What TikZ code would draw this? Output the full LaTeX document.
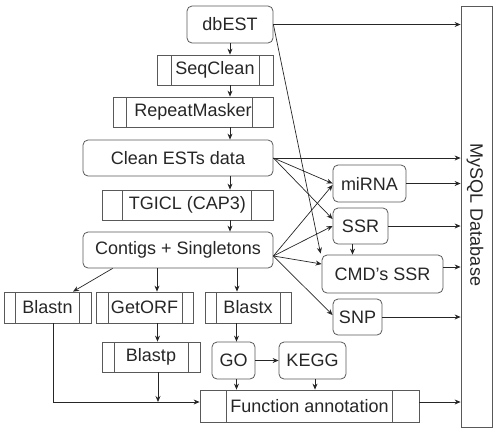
\documentclass[tikz,border=0pt]{standalone}
\usepackage{fontspec}
\setmainfont{Liberation Sans}
\usetikzlibrary{arrows.meta,calc}
\begin{document}
\begin{tikzpicture}[x=1pt,y=-1pt,
  every node/.style={font=\fontsize{18}{21}\selectfont, text=black!85, inner sep=0pt},
  rbox/.style={draw=black!65, line width=0.8pt, rounded corners=5pt},
  pbox/.style 2 args={draw=black!65, line width=0.8pt,
    path picture={
      \draw[black!65, line width=0.8pt] ([xshift=#1]path picture bounding box.north west) -- ([xshift=#1]path picture bounding box.south west);
      \draw[black!65, line width=0.8pt] ([xshift=-#2]path picture bounding box.north east) -- ([xshift=-#2]path picture bounding box.south east);
    }},
  arr/.style={draw=black!85, line width=0.7pt, -{Stealth[length=6pt,width=5pt]}},
  ln/.style={draw=black!85, line width=0.7pt}
]
\useasboundingbox (0,0) rectangle (498,432);

% main column
\node[rbox, minimum width=86pt, minimum height=37pt] (db) at (230,24.5) {dbEST};
\node[pbox={14pt}{14pt}, minimum width=116pt, minimum height=30pt] (seq) at (215,70) {SeqClean};
\node[pbox={13pt}{21pt}, minimum width=160pt, minimum height=30pt] (rep) at (193,112) {RepeatMasker\hspace{8pt}};
\node[rbox, minimum width=190pt, minimum height=36pt] (clean) at (178,158) {Clean ESTs data};
\node[pbox={20pt}{22pt}, minimum width=171pt, minimum height=30pt] (tgicl) at (187.5,205) {TGICL (CAP3)};
\node[rbox, minimum width=190pt, minimum height=36pt] (cont) at (178,250) {Contigs + Singletons};

% right column
\node[rbox, minimum width=73pt, minimum height=37pt] (mirna) at (369.5,183.5) {miRNA};
\node[rbox, minimum width=55pt, minimum height=36pt] (ssr) at (360.5,226) {SSR};
\node[rbox, minimum width=121pt, minimum height=38pt] (cmd) at (382.5,274) {CMD’s SSR};
\node[rbox, minimum width=49pt, minimum height=36pt] (snp) at (357.5,317) {SNP};
\node[draw=black!65, line width=0.8pt, minimum width=31pt, minimum height=421pt] (dbase) at (476.5,216.5) {};
\node[rotate=-90] (dbtext) at (475,215) {MySQL Database};

% lower part
\node[pbox={11pt}{12pt}, minimum width=87pt, minimum height=31pt] (blastn) at (47.5,307.5) {Blastn};
\node[pbox={12pt}{11pt}, minimum width=97pt, minimum height=31pt] (getorf) at (144.5,307.5) {GetORF};
\node[pbox={11pt}{11pt}, minimum width=86pt, minimum height=31pt] (blastx) at (248,307.5) {Blastx};
\node[pbox={12pt}{12pt}, minimum width=98pt, minimum height=30pt] (blastp) at (151,357) {Blastp};
\node[rbox, minimum width=43pt, minimum height=37pt] (go) at (233.5,360.5) {GO};
\node[rbox, minimum width=67pt, minimum height=37pt] (kegg) at (312.5,360.5) {KEGG};
\node[pbox={26pt}{27pt}, minimum width=219pt, minimum height=32pt] (func) at (309.5,406) {Function annotation};

% main chain
\draw[arr] (db.south) -- (db.south |- seq.north);
\draw[arr] (db.south |- seq.south) -- (db.south |- rep.north);
\draw[arr] (db.south |- rep.south) -- (db.south |- clean.north);
\draw[arr] (db.south |- clean.south) -- (db.south |- tgicl.north);
\draw[arr] (db.south |- tgicl.south) -- (db.south |- cont.north);

% to database
\draw[arr] (db.east) -- (db.east -| dbase.west);
\draw[arr] (clean.east) -- (clean.east -| dbase.west);
\draw[arr] (mirna.east) -- (mirna.east -| dbase.west);
\draw[arr] (ssr.east) -- (ssr.east -| dbase.west);
\coordinate (cmde) at ([yshift=7pt]cmd.east);
\draw[arr] (cmde) -- (cmde -| dbase.west);
\draw[arr] (snp.east) -- (snp.east -| dbase.west);
\coordinate (fw) at ([yshift=4pt]func.west);
\draw[arr] (fw -| func.east) -- (fw -| dbase.west);

% diagonal connectors
\draw[arr] (db.east) -- ([xshift=-1pt,yshift=1pt]cmd.north west);
\draw[arr] (clean.east) -- (mirna.west);
\draw[arr] (clean.east) -- ([yshift=7pt]ssr.west);
\coordinate (ce) at ([yshift=-6pt]cont.east);
\draw[arr] (ce) -- ([yshift=-1.5pt]mirna.west);
\draw[arr] (ce) -- (ssr.west);
\draw[arr] (ce) -- ([yshift=10pt]cmd.west);
\draw[arr] (ce) -- ([yshift=2pt]snp.west);
\draw[arr] ([xshift=-8pt]ssr.south) -- ([xshift=-8pt]ssr.south |- cmd.north);

% lower connectors
\draw[arr] ([xshift=30pt]cont.south west) -- ([xshift=25.5pt]blastn.north);
\draw[arr] ([xshift=12.5pt]getorf.north |- cont.south) -- ([xshift=12.5pt]getorf.north);
\draw[arr] ([xshift=-11pt]blastx.north |- cont.south) -- ([xshift=-11pt]blastx.north);
\draw[arr] ([xshift=13pt]getorf.south) -- ([xshift=13pt]getorf.south |- blastp.north);
\draw[arr] ([xshift=3pt]go.north |- blastx.south) -- ([xshift=3pt]go.north);
\draw[arr] ([xshift=3pt]go.south) -- ([xshift=3pt]go.south |- func.north);
\draw[arr] (go.east) -- (kegg.west);
\draw[arr] ([xshift=2.5pt]kegg.south) -- ([xshift=2.5pt]kegg.south |- func.north);
\draw[arr] ([xshift=5.5pt]blastn.south) |- (fw);
\coordinate (bp) at ([xshift=7pt]blastp.south);
\draw[arr] (bp) -- (bp |- fw);
\end{tikzpicture}
\end{document}
